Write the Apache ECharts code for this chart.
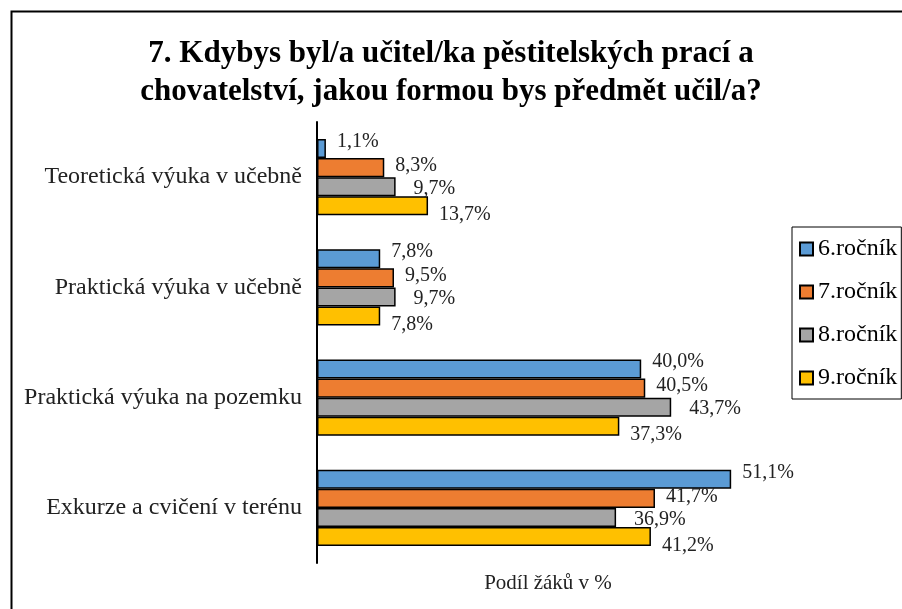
<!DOCTYPE html>
<html>
<head>
<meta charset="utf-8">
<script src="https://cdn.jsdelivr.net/npm/echarts@6/dist/echarts.min.js"></script>
<style>
  html, body { margin: 0; padding: 0; background: #fff; }
  #chart { width: 902px; height: 609px; }
</style>
</head>
<body>
<div id="chart"></div>
<script>
var categories = [
  'Teoretická výuka v učebně',
  'Praktická výuka v učebně',
  'Praktická výuka na pozemku',
  'Exkurze a cvičení v terénu'
];
var seriesNames = ['6.ročník', '7.ročník', '8.ročník', '9.ročník'];
var values6 = [1.1, 7.8, 40.0, 51.1];
var values7 = [8.3, 9.5, 40.5, 41.7];
var values8 = [9.7, 9.7, 43.7, 36.9];
var values9 = [13.7, 7.8, 37.3, 41.2];

var colors = ['#5B9BD5', '#ED7D31', '#A5A5A5', '#FFC000'];
// Excel shifts the labels around a bit; rough per-series offsets
var labelShift = [[11, -7], [11, -2], [18, 2], [11, 9]];
var font = 'Liberation Serif';

var myChart = echarts.init(document.getElementById('chart'));

function makeSeries(i, data) {
  return {
    name: seriesNames[i],
    type: 'bar',
    data: data,
    barGap: '0%',
    barCategoryGap: '31%',
    itemStyle: { color: colors[i], borderColor: '#000', borderWidth: 1.5 },
    label: {
      show: true,
      position: 'right',
      distance: 0,
      offset: labelShift[i],
      fontFamily: font,
      fontSize: 20,
      color: '#222',
      formatter: function (p) { return p.value.toFixed(1).replace('.', ',') + '%'; }
    }
  };
}

option = {
  backgroundColor: '#fff',
  animation: false,
  textStyle: { fontFamily: font },
  graphic: [{
    type: 'rect',
    left: 9, top: 9,
    shape: { width: 1000, height: 1000 },
    style: { fill: 'none', stroke: '#000', lineWidth: 2 }
  }],
  title: {
    text: '7. Kdybys byl/a učitel/ka pěstitelských prací a\nchovatelství, jakou formou bys předmět učil/a?',
    left: 'center',
    top: 35,
    padding: 0,
    textStyle: { fontFamily: font, fontSize: 31, fontWeight: 'bold', color: '#000', lineHeight: 38 }
  },
  legend: {
    orient: 'vertical',
    left: 792,
    top: 227,
    padding: [10, 4, 9, 7],
    itemWidth: 13,
    itemHeight: 13,
    itemGap: 19,
    itemTextGap: 4,
    borderColor: '#000',
    borderWidth: 1,
    icon: 'rect',
    data: seriesNames,
    textStyle: { fontFamily: font, fontSize: 24, color: '#000' }
  },
  grid: { left: 317, right: 123, top: 122, bottom: 46, containLabel: false },
  xAxis: {
    type: 'value',
    min: 0,
    max: 57,
    axisLine: { show: false },
    axisTick: { show: false },
    axisLabel: { show: false },
    splitLine: { show: false },
    name: 'Podíl žáků v %',
    nameLocation: 'middle',
    nameGap: 10,
    nameTextStyle: { fontFamily: font, fontSize: 21, color: '#222', verticalAlign: 'top' }
  },
  yAxis: {
    type: 'category',
    data: categories,
    inverse: true,
    axisLine: { lineStyle: { color: '#000', width: 2 } },
    axisTick: { show: false },
    axisLabel: { fontFamily: font, fontSize: 24, color: '#222', margin: 15 }
  },
  series: [
    makeSeries(0, values6),
    makeSeries(1, values7),
    makeSeries(2, values8),
    makeSeries(3, values9)
  ]
};

myChart.setOption(option);
</script>
</body>
</html>
